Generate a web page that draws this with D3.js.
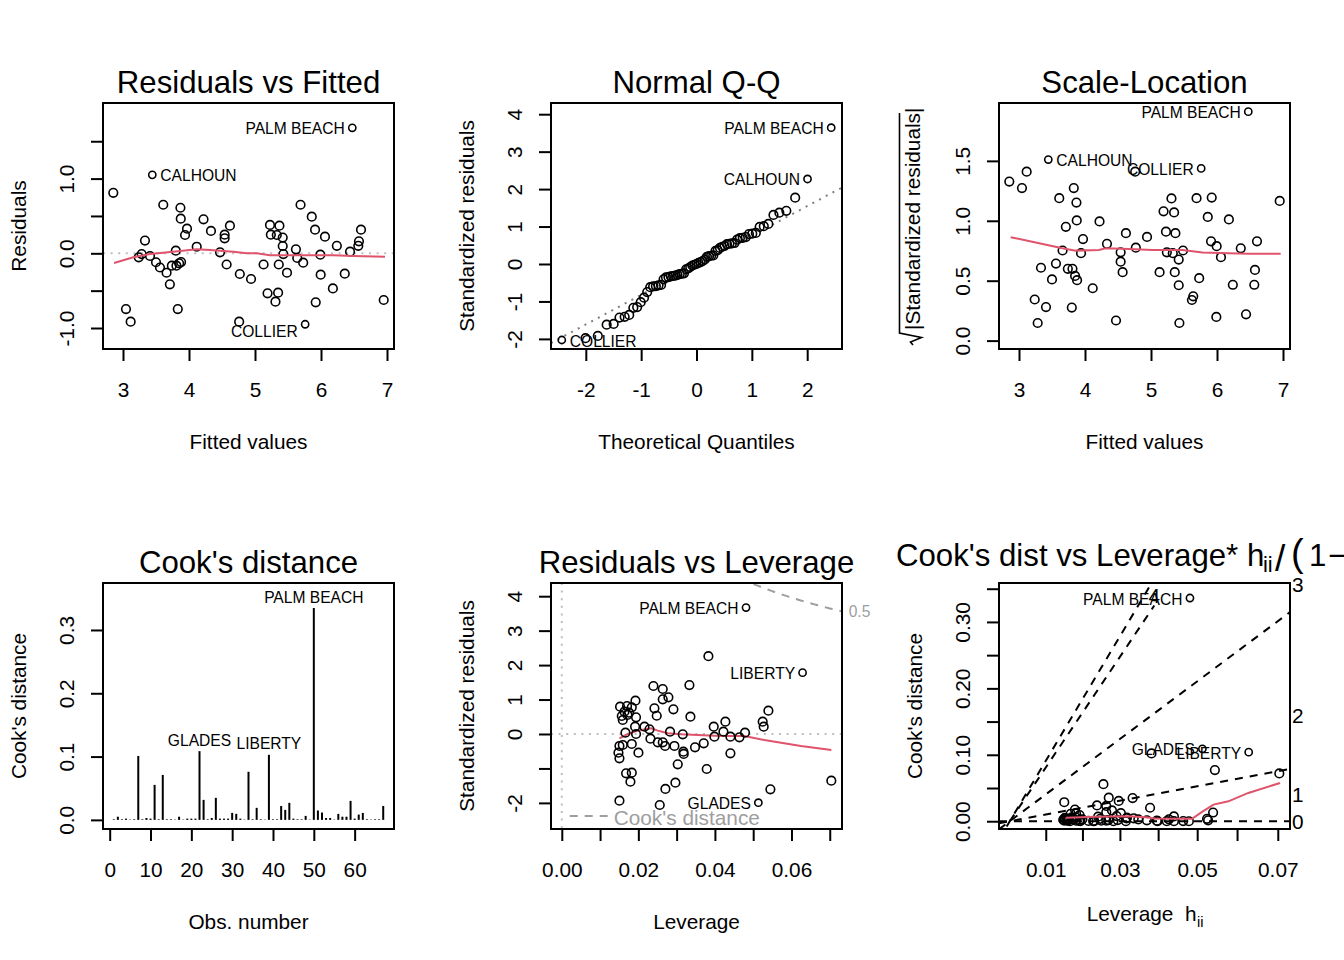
<!DOCTYPE html>
<html><head><meta charset="utf-8">
<script src="https://cdn.jsdelivr.net/npm/d3@7"></script>
<style>
body{margin:0;background:#fff}
svg{display:block;font-family:"Liberation Sans",Arial,Helvetica,sans-serif}
</style></head><body>
<svg id="c" width="1344" height="960"></svg>
<script>
// ---------------- data ----------------
const fitted = [2.853,3.444,6.474,3.045,3.116,3.238,3.283,3.333,3.409,3.50,3.56,3.61,3.66,3.71,3.74,3.80,3.81,3.85,3.88,3.83,3.87,3.875,3.94,3.97,4.117,4.22,4.333,4.47,4.54,4.54,4.57,4.62,4.77,4.76,4.94,5.13,5.19,5.227,5.24,5.31,5.35,5.36,5.33,5.37,5.42,5.42,5.43,5.485,5.62,5.64,5.69,5.73,5.76,5.86,5.91,5.92,5.99,5.995,6.06,6.18,6.24,6.36,6.44,6.565,6.575,6.606,6.95];
const residuals = [0.81,1.05,1.68,-0.746,-0.915,-0.054,-0.01,0.17,-0.036,-0.12,-0.19,0.65,-0.26,-0.415,-0.165,0.035,-0.165,-0.134,-0.117,-0.746,0.61,0.463,0.245,0.33,0.088,0.455,0.30,0.013,0.25,0.2,-0.15,0.37,-0.277,-0.915,-0.344,-0.15,-0.536,0.38,0.25,-0.648,-0.527,-0.15,0.245,0.37,0.21,0.098,-0.01,-0.26,0.053,-0.063,0.65,-0.125,-0.95,0.49,0.316,-0.656,-0.018,-0.286,0.223,-0.47,0.10,-0.273,0.022,0.10,0.16,0.316,-0.625];
const sqrtStdRes = [1.327,1.511,1.911,1.273,1.410,0.343,0.147,0.608,0.280,0.511,0.643,1.189,0.752,0.950,0.599,0.276,0.599,0.540,0.504,1.273,1.152,1.003,0.730,0.847,0.437,0.995,0.808,0.168,0.737,0.659,0.571,0.897,0.776,1.410,0.865,0.571,1.079,0.909,0.737,1.187,1.070,0.571,0.730,0.897,0.676,0.462,0.147,0.752,0.339,0.370,1.189,0.521,1.437,1.032,0.829,1.194,0.198,0.788,0.696,1.011,0.466,0.770,0.219,0.466,0.590,0.829,1.166];
const theoQuant = [-2.434,-2.006,-1.783,-1.623,-1.497,-1.391,-1.298,-1.216,-1.141,-1.072,-1.008,-0.948,-0.891,-0.836,-0.784,-0.734,-0.686,-0.640,-0.595,-0.551,-0.507,-0.465,-0.424,-0.383,-0.343,-0.303,-0.264,-0.226,-0.188,-0.150,-0.113,-0.075,-0.037,0,0.037,0.075,0.113,0.150,0.188,0.226,0.264,0.303,0.343,0.383,0.424,0.465,0.507,0.551,0.595,0.640,0.686,0.734,0.784,0.836,0.891,0.948,1.008,1.072,1.141,1.216,1.298,1.391,1.497,1.623,1.783,2.006,2.434];
const sortedStdRes = [-2.03,-1.98,-1.92,-1.62,-1.60,-1.43,-1.41,-1.36,-1.17,-1.15,-1.02,-0.90,-0.75,-0.62,-0.60,-0.59,-0.57,-0.56,-0.41,-0.36,-0.35,-0.33,-0.32,-0.31,-0.29,-0.27,-0.26,-0.25,-0.14,-0.12,-0.08,-0.04,-0.02,0.00,0.03,0.05,0.08,0.12,0.19,0.21,0.22,0.23,0.35,0.37,0.43,0.46,0.48,0.53,0.54,0.55,0.56,0.65,0.69,0.70,0.72,0.80,0.81,0.83,0.99,1.01,1.07,1.31,1.37,1.42,1.77,2.27,3.64];
const cookByObs = [0.001,0.005,0.001,0.002,0.0005,0.001,0.101,0.001,0.003,0.002,0.0553,0.001,0.071,0.001,0.001,0.0005,0.005,0.0005,0.002,0.002,0.002,0.1086,0.0316,0.001,0.003,0.0348,0.002,0.002,0.002,0.011,0.0095,0.002,0.0005,0.076,0.001,0.019,0.001,0.0005,0.1028,0.001,0.001,0.022,0.0158,0.0269,0.002,0.001,0.001,0.0063,0.0005,0.3347,0.0148,0.0116,0.003,0.003,0.0005,0.0095,0.005,0.005,0.030,0.002,0.0084,0.011,0.001,0.0005,0.001,0.001,0.022];
const leverage = [0.04813,0.0629,0.0383,0.02394,0.02637,0.03334,0.02637,0.02785,0.01924,0.01522,0.01705,0.01828,0.01758,0.01567,0.01593,0.01715,0.0194,0.0242,0.0248,0.02916,0.0336,0.01914,0.0216,0.0229,0.01663,0.0194,0.02828,0.0316,0.03969,0.03987,0.04274,0.04222,0.04405,0.0464,0.04786,0.05248,0.05274,0.05397,0.02316,0.02507,0.02637,0.02698,0.02942,0.03177,0.03185,0.0348,0.03708,0.04405,0.01593,0.01506,0.01828,0.02002,0.0148,0.01506,0.03029,0.03786,0.01679,0.01828,0.01793,0.02968,0.02707,0.05449,0.07041,0.01506,0.02559,0.05135,0.01637];
const stdResLev = [3.67,1.78,2.26,1.393,1.306,1.42,1.006,1.065,0.967,0.793,0.813,0.775,0.62,0.522,0.406,0.552,0.484,0.745,0.53,0.716,0.503,0.212,0.212,0.136,0.038,0,0.068,-0.01,0.212,-0.077,0.358,0.068,-0.077,-0.097,0.038,0.358,0.212,0.677,-0.135,-0.242,-0.242,-0.348,-0.348,-0.513,-0.58,-0.387,-0.271,-0.561,-0.319,-0.348,-0.29,-0.542,-0.542,-0.706,-0.88,-1.016,-1.142,-1.123,-1.384,-1.413,-1.596,-1.606,-1.355,-1.935,-2.061,-1.994,0.648];
const levRatio = [0.0506,0.0671,0.0398,0.0245,0.0271,0.0345,0.0271,0.0287,0.0196,0.0155,0.0174,0.0186,0.0179,0.0159,0.0162,0.0175,0.0198,0.0248,0.0254,0.0300,0.0348,0.0195,0.0221,0.0234,0.0169,0.0198,0.0291,0.0326,0.0413,0.0415,0.0447,0.0441,0.0461,0.0487,0.0503,0.0554,0.0557,0.0571,0.0237,0.0257,0.0271,0.0277,0.0303,0.0328,0.0329,0.0361,0.0385,0.0461,0.0162,0.0153,0.0186,0.0204,0.0150,0.0153,0.0312,0.0394,0.0171,0.0186,0.0183,0.0306,0.0278,0.0576,0.0757,0.0153,0.0263,0.0541,0.0166];
const cookLev = [0.336,0.104,0.102,0.0238,0.0231,0.0348,0.0137,0.0162,0.0092,0.0049,0.0057,0.0056,0.0034,0.0022,0.0013,0.0027,0.0023,0.0069,0.0036,0.0077,0.0044,0.0004,0.0005,0.0002,0,0,0.0001,0,0.0009,0.0001,0.0029,0.0001,0.0001,0.0002,0,0.0036,0.0013,0.0131,0.0002,0.0008,0.0008,0.0017,0.0018,0.0043,0.0055,0.0027,0.0014,0.0073,0.0008,0.0009,0.0008,0.0030,0.0022,0.0038,0.0121,0.0203,0.0111,0.0117,0.0175,0.0305,0.0354,0.077,0.072,0.0286,0.0558,0.109,0.0035];

// smoother (red) lines
const smooth1X = [2.864,3.156,3.409,3.76,4.117,4.318,4.67,4.874,5.026,5.227,5.68,6.186,6.49,6.97];
const smooth1Y = [-0.13,-0.054,-0.009,0.022,0.053,0.044,0.022,0,0,-0.027,-0.027,-0.027,-0.036,-0.045];
const smooth3X = [2.874,3.253,3.657,3.859,4.212,4.314,4.667,5.021,5.476,5.779,6.182,6.485,6.965];
const smooth3Y = [0.863,0.818,0.771,0.751,0.757,0.771,0.765,0.757,0.757,0.735,0.730,0.724,0.724];
const smooth5X = [0.01506,0.01723,0.01984,0.02333,0.02507,0.02768,0.03115,0.03551,0.03987,0.0442,0.0477,0.05292,0.05726,0.06248,0.07041];
const smooth5Y = [-0.126,0,0.097,0.164,0.097,0.019,-0.01,-0.03,-0.048,-0.058,-0.058,-0.174,-0.252,-0.348,-0.464];
const smooth6X = [0.01573,0.02412,0.03345,0.03812,0.04092,0.04559,0.05119,0.054,0.0572,0.0614,0.067,0.0759];
const smooth6Y = [0.0051,0.0066,0.0075,0.006,0.004,0.0036,0.0036,0.014,0.025,0.030,0.0426,0.0576];

// Q-Q reference line
const qqIntercept = -0.035, qqSlope = 0.79;
// Cook's contour level and lines of panel 6
const cookLevel = 0.5, nCoef = 2;
const cookLineB = [0,1,2,3];     // drawn as abline(0, b^2)
const cookSegB = 4;              // drawn as segment
// tick labels
const p1XT=[3,4,5,6,7], p1YT=[-1,-0.5,0,0.5,1,1.5], p1YL=["-1.0","","0.0","","1.0",""];
const p2XT=[-2,-1,0,1,2], p2YT=[-2,-1,0,1,2,3,4], p2YL=["-2","-1","0","1","2","3","4"];
const p3YT=[0,0.5,1,1.5], p3YL=["0.0","0.5","1.0","1.5"];
const p4XT=[0,10,20,30,40,50,60], p4YT=[0,0.1,0.2,0.3], p4YL=["0.0","0.1","0.2","0.3"];
const p5XT=[0,0.01,0.02,0.03,0.04,0.05,0.06,0.07], p5XL=["0.00","","0.02","","0.04","","0.06",""];
const p5YT=[-2,-1,0,1,2,3,4], p5YL=["-2","","0","1","2","3","4"];
const p6HT=[0.01,0.02,0.03,0.04,0.05,0.06,0.07], p6XL=["0.01","","0.03","","0.05","","0.07"];
const p6YT=[0,0.05,0.1,0.15,0.2,0.25,0.3,0.35], p6YL=["0.00","","0.10","","0.20","","0.30",""];

// ---------------- drawing ----------------
const svg = d3.select("#c");
const F = 20.8, FT = 31.2, FL = 15.6;
const RED = "#DF536B", G62 = "#9E9E9E", GRAY = "#BEBEBE", G50 = "#7F7F7F";
const W = 291, H = 246;
const LEFTS = [103, 551, 999], TOPS = [103, 583];

function panel(id, col, row, xd, yd) {
  const left = LEFTS[col], top = TOPS[row];
  const x = d3.scaleLinear().domain(xd).range([left, left + W]);
  const y = d3.scaleLinear().domain(yd).range([top + H, top]);
  svg.append("clipPath").attr("id", "cl" + id).append("rect")
    .attr("x", left).attr("y", top).attr("width", W).attr("height", H);
  const clip = svg.append("g").attr("clip-path", `url(#cl${id})`);
  const g = svg.append("g");
  return {left, top, x, y, clip, g};
}
function box(P) {
  svg.append("rect").attr("x", P.left).attr("y", P.top).attr("width", W).attr("height", H)
    .attr("fill", "none").attr("stroke", "#000").attr("stroke-width", 2);
}
function xAxis(P, ticks, labels, scale) {
  const ax = svg.append("g").attr("transform", `translate(0,${P.top + H})`)
    .call(d3.axisBottom(scale || P.x).tickValues(ticks).tickFormat((d, i) => labels[i]).tickSize(12).tickSizeOuter(0));
  ax.select(".domain").remove();
  ax.attr("font-size", F).attr("font-family", null);
  ax.selectAll(".tick line").attr("stroke-width", 2);
  ax.selectAll(".tick text").attr("y", 47.5).attr("dy", null);
}
function yAxis(P, ticks, labels) {
  const ax = svg.append("g").attr("transform", `translate(${P.left},0)`)
    .call(d3.axisLeft(P.y).tickValues(ticks).tickFormat((d, i) => labels[i]).tickSize(12).tickSizeOuter(0));
  ax.select(".domain").remove();
  ax.attr("font-size", F).attr("font-family", null);
  ax.selectAll(".tick line").attr("stroke-width", 2);
  ax.selectAll(".tick text").attr("x", null).attr("dy", null).attr("text-anchor", "middle")
    .attr("transform", "translate(-29,0) rotate(-90)");
}
function titles(P, title, xlab, ylab) {
  const cx = P.left + W / 2;
  if (title) svg.append("text").attr("x", cx).attr("y", P.top - 10).attr("text-anchor", "middle")
    .attr("font-size", FT).text(title);
  if (xlab) svg.append("text").attr("x", cx).attr("y", P.top + H + 100).attr("text-anchor", "middle")
    .attr("font-size", F).text(xlab);
  if (ylab) svg.append("text").attr("text-anchor", "middle").attr("font-size", F)
    .attr("transform", `translate(${P.left - 77.5},${P.top + H / 2}) rotate(-90)`).text(ylab);
}
function points(P, xs, ys, labelled) {
  const lab = new Set(labelled || []);
  P.g.selectAll(null).data(xs.map((v, i) => [v, ys[i], i])).enter().append("circle")
    .attr("cx", d => P.x(d[0])).attr("cy", d => P.y(d[1]))
    .attr("r", d => lab.has(d[2]) ? 3.6 : 4.3)
    .attr("fill", "none").attr("stroke", "#000").attr("stroke-width", 1.6);
}
function smooth(P, xs, ys) {
  const line = d3.line().x(d => P.x(d[0])).y(d => P.y(d[1]));
  P.g.append("path").attr("d", line(xs.map((v, i) => [v, ys[i]])))
    .attr("fill", "none").attr("stroke", RED).attr("stroke-width", 2);
}
function hline(P, v, color, dash) {
  P.clip.append("line").attr("x1", P.left).attr("x2", P.left + W).attr("y1", P.y(v)).attr("y2", P.y(v))
    .attr("stroke", color).attr("stroke-width", 2).attr("stroke-dasharray", dash);
}
function idLabel(P, xv, yv, name, side, dy) {
  const px = P.x(xv), py = P.y(yv);
  svg.append("text").attr("x", side === "left" ? px - 7.5 : px + 8).attr("y", py + 6.5 + (dy || 0))
    .attr("text-anchor", side === "left" ? "end" : "start").attr("font-size", FL).text(name);
}

// ---- Panel 1: Residuals vs Fitted
const P1 = panel(1, 0, 0, [2.697, 7.106], [-1.281, 2.012]);
hline(P1, 0, GRAY, "2 5.6");
points(P1, fitted, residuals, [2, 1, 52]);
smooth(P1, smooth1X, smooth1Y);
idLabel(P1, fitted[2], residuals[2], "PALM BEACH", "left");
idLabel(P1, fitted[1], residuals[1], "CALHOUN", "right");
idLabel(P1, fitted[52], residuals[52], "COLLIER", "left", 6);
xAxis(P1, p1XT, p1XT.map(String)); yAxis(P1, p1YT, p1YL); box(P1);
titles(P1, "Residuals vs Fitted", "Fitted values", "Residuals");

// ---- Panel 2: Normal Q-Q
const P2 = panel(2, 1, 0, [-2.629, 2.629], [-2.27, 4.299]);
{
  const xd = P2.x.domain();
  P2.clip.append("line").attr("x1", P2.x(xd[0])).attr("x2", P2.x(xd[1]))
    .attr("y1", P2.y(qqIntercept + qqSlope * xd[0])).attr("y2", P2.y(qqIntercept + qqSlope * xd[1]))
    .attr("stroke", G50).attr("stroke-width", 2).attr("stroke-dasharray", "2 5.6");
}
points(P2, theoQuant, sortedStdRes, [66, 65, 0]);
idLabel(P2, theoQuant[66], sortedStdRes[66], "PALM BEACH", "left");
idLabel(P2, theoQuant[65], sortedStdRes[65], "CALHOUN", "left");
idLabel(P2, theoQuant[0], sortedStdRes[0], "COLLIER", "right");
xAxis(P2, p2XT, p2XT.map(String)); yAxis(P2, p2YT, p2YL); box(P2);
titles(P2, "Normal Q-Q", "Theoretical Quantiles", "Standardized residuals");

// ---- Panel 3: Scale-Location
const P3 = panel(3, 2, 0, [2.697, 7.106], [-0.07, 1.983]);
points(P3, fitted, sqrtStdRes, [2, 1, 52]);
smooth(P3, smooth3X, smooth3Y);
idLabel(P3, fitted[2], sqrtStdRes[2], "PALM BEACH", "left");
idLabel(P3, fitted[1], sqrtStdRes[1], "CALHOUN", "right");
idLabel(P3, fitted[52], sqrtStdRes[52], "COLLIER", "left");
xAxis(P3, p1XT, p1XT.map(String)); yAxis(P3, p3YT, p3YL); box(P3);
titles(P3, "Scale-Location", "Fitted values", null);
{
  const gl = svg.append("g").attr("transform", `translate(${P3.left - 79},${P3.top + H / 2}) rotate(-90)`);
  const s = -104;
  gl.append("text").attr("x", s).attr("y", 0).attr("font-size", F).text("|Standardized residuals|");
  gl.append("path").attr("d", `M${s - 15},-7 L${s - 12},-9.5 L${s - 7.5},1.5 L${s - 3},-20.5 L${s + 217},-20.5`)
    .attr("fill", "none").attr("stroke", "#000").attr("stroke-width", 1.6);
}

// ---- Panel 4: Cook's distance
const P4 = panel(4, 0, 1, [-1.64, 69.64], [-0.0144, 0.3742]);
P4.g.selectAll(null).data(cookByObs).enter().append("line")
  .attr("x1", (d, i) => P4.x(i + 1)).attr("x2", (d, i) => P4.x(i + 1))
  .attr("y1", P4.y(0)).attr("y2", d => P4.y(d)).attr("stroke", "#000").attr("stroke-width", 2);
[[50, "PALM BEACH"], [22, "GLADES"], [39, "LIBERTY"]].forEach(([k, n]) => {
  svg.append("text").attr("x", P4.x(k)).attr("y", P4.y(cookByObs[k - 1]) - 5.5)
    .attr("text-anchor", "middle").attr("font-size", FL).text(n);
});
xAxis(P4, p4XT, p4XT.map(String)); yAxis(P4, p4YT, p4YL); box(P4);
titles(P4, "Cook's distance", "Obs. number", "Cook's distance");

// ---- Panel 5: Residuals vs Leverage
const P5 = panel(5, 1, 1, [-0.00282, 0.0732], [-2.758, 4.383]);
hline(P5, 0, GRAY, "2 5.6");
P5.clip.append("line").attr("x1", P5.x(0)).attr("x2", P5.x(0)).attr("y1", P5.top).attr("y2", P5.top + H)
  .attr("stroke", GRAY).attr("stroke-width", 2).attr("stroke-dasharray", "2 5.6");
{
  const hh = d3.range(0.03, 0.0736, 0.0004);
  const cont = s => d3.line().x(h => P5.x(h)).y(h => P5.y(s * Math.sqrt(cookLevel * nCoef * (1 - h) / h)))(hh);
  [1, -1].forEach(s => P5.clip.append("path").attr("d", cont(s)).attr("fill", "none")
    .attr("stroke", G62).attr("stroke-width", 2).attr("stroke-dasharray", "8 7"));
  const xr = P5.x.domain()[1];
  svg.append("text").attr("x", P5.left + W + 6.7)
    .attr("y", P5.y(Math.sqrt(cookLevel * nCoef * (1 - xr) / xr)) + 5.6)
    .attr("font-size", FL).attr("fill", G62).text("0.5");
}
smooth(P5, smooth5X, smooth5Y);
points(P5, leverage, stdResLev, [0, 1, 65]);
idLabel(P5, leverage[0], stdResLev[0], "PALM BEACH", "left");
idLabel(P5, leverage[1], stdResLev[1], "LIBERTY", "left");
idLabel(P5, leverage[65], stdResLev[65], "GLADES", "left");
svg.append("line").attr("x1", 569.7).attr("x2", 609.7).attr("y1", 816).attr("y2", 816)
  .attr("stroke", G62).attr("stroke-width", 2).attr("stroke-dasharray", "8 7");
svg.append("text").attr("x", 613.7).attr("y", 825).attr("font-size", F).attr("fill", G62).text("Cook's distance");
xAxis(P5, p5XT, p5XL); yAxis(P5, p5YT, p5YL); box(P5);
titles(P5, "Residuals vs Leverage", "Leverage", "Standardized residuals");

// ---- Panel 6: Cook's dist vs Leverage
const P6 = panel(6, 2, 1, [-0.00303, 0.0787], [-0.0117, 0.3586]);
points(P6, levRatio, cookLev, [0, 1, 65]);
smooth(P6, smooth6X, smooth6Y);
{
  const xd = P6.x.domain(), xmax = xd[1], ymax = P6.y.domain()[1];
  const xi = xmax + 0.0005;
  cookLineB.forEach(b => {
    const s = b * b;
    P6.clip.append("line").attr("x1", P6.x(xd[0])).attr("y1", P6.y(s * xd[0]))
      .attr("x2", P6.x(xd[1])).attr("y2", P6.y(s * xd[1]))
      .attr("stroke", "#000").attr("stroke-width", 2).attr("stroke-dasharray", "8 7");
    svg.append("text").attr("x", P6.left + W + 2).attr("y", P6.y(s * xi / nCoef) + 7.5)
      .attr("font-size", F).text(String(b));
  });
  const sh = 0.0226;
  const yi = ymax - 1.5 * sh, x4 = nCoef * yi / (cookSegB * cookSegB);
  P6.clip.append("line").attr("x1", P6.x(0)).attr("y1", P6.y(0)).attr("x2", P6.x(x4)).attr("y2", P6.y(yi))
    .attr("stroke", "#000").attr("stroke-width", 2).attr("stroke-dasharray", "8 7");
  svg.append("text").attr("x", P6.x(x4)).attr("y", P6.y(ymax - 0.8 * sh) + 8)
    .attr("text-anchor", "middle").attr("font-size", F).text(String(cookSegB));
}
idLabel(P6, levRatio[0], cookLev[0], "PALM BEACH", "left");
idLabel(P6, levRatio[65], cookLev[65], "GLADES", "left");
idLabel(P6, levRatio[1], cookLev[1], "LIBERTY", "left");
xAxis(P6, p6HT.map(h => h / (1 - h)), p6XL); yAxis(P6, p6YT, p6YL); box(P6);
titles(P6, null, null, "Cook's distance");
// title with math
svg.append("text").attr("x", 896).attr("y", 566).attr("font-size", FT).text("Cook's dist vs Leverage* h");
svg.append("text").attr("x", 1263).attr("y", 571.7).attr("font-size", 21.9).text("ii");
svg.append("text").attr("x", 1275).attr("y", 571).attr("font-size", 37).text("/");
svg.append("text").attr("x", 1291).attr("y", 566).attr("font-size", 38).text("(");
svg.append("text").attr("x", 1309).attr("y", 566).attr("font-size", FT).text("1");
svg.append("text").attr("x", 1328).attr("y", 566).attr("font-size", FT).text("\u2212");
// x label with subscript
svg.append("text").attr("x", 1086.7).attr("y", 920.7).attr("font-size", F).text("Leverage");
svg.append("text").attr("x", 1185).attr("y", 920.7).attr("font-size", F).text("h");
svg.append("text").attr("x", 1197).attr("y", 926.5).attr("font-size", 14.6).text("ii");
</script>
</body></html>
